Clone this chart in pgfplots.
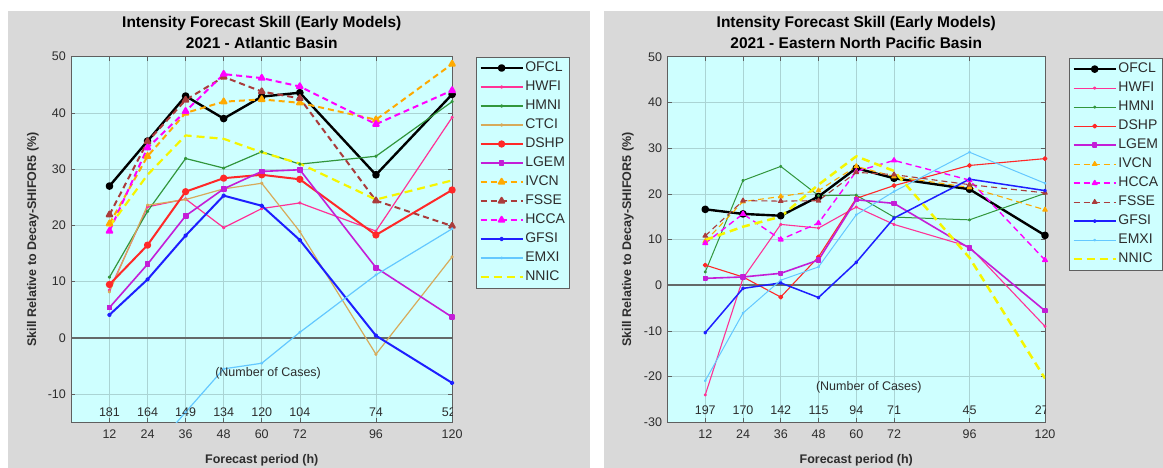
\documentclass[border=0pt]{standalone}
\usepackage{fontspec}
\setmainfont{Liberation Sans}
\usepackage{pgfplots}
\usepackage{pgfplotstable}
\pgfplotsset{compat=1.18}

% colours
\definecolor{panelgray}{RGB}{217,217,217}
\definecolor{cyanbg}{RGB}{206,255,255}
\definecolor{gridc}{RGB}{170,212,212}
\definecolor{txtgray}{RGB}{45,45,45}
\definecolor{axgray}{RGB}{95,95,95}
\definecolor{zerogray}{RGB}{100,105,105}
\definecolor{cOFCL}{RGB}{0,0,0}
\definecolor{cHWFI}{RGB}{255,50,150}
\definecolor{cHMNI}{RGB}{50,150,60}
\definecolor{cCTCI}{RGB}{215,170,90}
\definecolor{cDSHP}{RGB}{255,40,40}
\definecolor{cLGEM}{RGB}{195,30,215}
\definecolor{cIVCN}{RGB}{255,170,0}
\definecolor{cFSSE}{RGB}{170,60,60}
\definecolor{cHCCA}{RGB}{255,0,255}
\definecolor{cGFSI}{RGB}{30,30,255}
\definecolor{cEMXI}{RGB}{100,200,255}
\definecolor{cNNIC}{RGB}{245,245,0}

% Atlantic basin skill (%)
\pgfplotstableread{
h   OFCL HWFI HMNI CTCI DSHP LGEM IVCN FSSE HCCA GFSI EMXI  NNIC
12  27.0 8.5  10.8 8.2  9.5  5.4  20.3 21.9 19.0 4.1  -30.0 19.8
24  35.0 23.3 22.5 23.6 16.5 13.1 32.3 34.9 33.8 10.4 -21.0 29.0
36  43.0 24.7 31.9 24.6 26.0 21.7 40.0 42.3 40.3 18.2 -13.2 36.0
48  39.0 19.6 30.2 26.5 28.4 26.5 42.0 46.4 46.9 25.3 -5.5  35.4
60  42.9 23.0 33.1 27.5 29.0 29.6 42.4 43.8 46.2 23.5 -4.5  33.0
72  43.6 24.0 30.9 18.9 28.2 29.9 41.8 42.6 44.7 17.4 1.0   31.0
96  29.0 19.0 32.3 -2.9 18.3 12.5 38.8 24.4 38.0 0.4  11.2  24.6
120 43.3 39.2 42.0 14.4 26.3 3.7  48.7 19.9 44.0 -8.0 19.4  28.0
}\atl

% Eastern North Pacific basin skill (%)
\pgfplotstableread{
h   OFCL HWFI  HMNI DSHP LGEM IVCN HCCA FSSE GFSI  EMXI  NNIC
12  16.6 -24.0 2.9  4.4  1.5  9.6  9.2  10.8 -10.4 -20.9 9.9
24  15.6 1.5   22.9 1.8  1.8  18.3 15.6 18.5 -0.7  -6.1  12.8
36  15.2 13.3  26.0 -2.6 2.6  19.4 10.0 18.4 0.5   1.1   15.0
48  19.4 12.5  19.6 6.2  5.5  20.7 13.6 18.5 -2.7  4.0   22.0
60  25.6 17.1  19.7 19.0 18.7 26.0 24.9 24.7 5.0   15.4  28.2
72  23.4 13.3  14.9 21.8 17.9 23.8 27.3 24.2 14.7  20.5  25.0
96  21.0 8.4   14.3 26.2 8.1  21.4 23.0 22.0 23.2  29.1  6.0
120 10.9 -9.0  20.1 27.7 -5.6 16.5 5.5  20.2 20.7  22.3  -20.4
}\epac

\pgfplotsset{
  skillaxis/.style={
    scale only axis, anchor=south west,
    height=365.6pt,
    xmin=0, xmax=120, ymax=50,
    xtick={12,24,36,48,60,72,96,120},
    ytick distance=10,
    grid=major,
    major grid style={color=gridc, line width=0.6pt},
    axis background/.style={fill=cyanbg},
    axis line style={axgray, line width=0.8pt},
    tick style={axgray, line width=0.6pt},
    major tick length=4pt,
    tick align=inside, tick pos=both,
    ticklabel style={font=\fontsize{12.5}{14}\selectfont, color=txtgray},
    /pgf/number format/assume math mode=true,
    xticklabel style={yshift=-4pt},
    yticklabel style={xshift=-2pt},
    title style={font=\bfseries\fontsize{15.5}{20.5}\selectfont, align=center, color=black, yshift=-1pt},
    xlabel={Forecast period (h)},
    ylabel={Skill Relative to Decay-SHIFOR5 (\%)},
    xlabel style={font=\bfseries\fontsize{12.5}{14}\selectfont, color=txtgray, at={(axis description cs:0.5,-0.103)}, anchor=center},
    ylabel style={font=\bfseries\fontsize{12.5}{14}\selectfont, color=txtgray, anchor=center},
    legend cell align=left,
    legend style={fill=cyanbg, draw=axgray, line width=0.6pt,
      font=\fontsize{14}{16}\selectfont, text=txtgray,
      anchor=north west, inner xsep=3pt, inner ysep=3pt,
      row sep=3pt,
      nodes={inner sep=1.5pt, text height=10pt, text depth=3pt}},
    legend image code/.code={\draw[mark repeat=2,mark phase=2,#1] plot coordinates {(0pt,0pt) (21pt,0pt) (42pt,0pt)};},
    table/x=h,
  },
  solidline/.style={solid, line join=round},
  dashline/.style={dash pattern=on 6pt off 4pt, line join=round},
  longdash/.style={dash pattern=on 8pt off 5pt, line join=round},
}

\begin{document}
\begin{tikzpicture}
\useasboundingbox (0,0) rectangle (1163pt,468pt);
\fill[white] (0,0) rectangle (1163pt,468pt);
\fill[panelgray] (8pt,0pt) rectangle (590pt,457.3pt);
\fill[panelgray] (603.6pt,0pt) rectangle (1163pt,457.3pt);

% ---------------- Atlantic ----------------
\begin{axis}[skillaxis,
  at={(71.4pt,45.7pt)}, width=380.7pt, ymin=-15,
  title={Intensity Forecast Skill (Early Models)\\2021 - Atlantic Basin},
  ylabel style={at={(axis description cs:-0.101,0.5)}},
  legend style={at={(axis description cs:1.063,1.0)}},
]
\draw[zerogray, line width=1.5pt] (axis cs:0,0) -- (axis cs:120,0);
\addplot[solidline, cOFCL, line width=2.4pt, mark=*, mark size=2.6pt] table[y=OFCL]{\atl};
\addlegendentry{OFCL}
\addplot[solidline, cHWFI, line width=1.2pt, mark=*, mark size=1.1pt] table[y=HWFI]{\atl};
\addlegendentry{HWFI}
\addplot[solidline, cHMNI, line width=1.2pt, mark=*, mark size=1.1pt] table[y=HMNI]{\atl};
\addlegendentry{HMNI}
\addplot[solidline, cCTCI, line width=1.2pt, mark=*, mark size=1.1pt] table[y=CTCI]{\atl};
\addlegendentry{CTCI}
\addplot[solidline, cDSHP, line width=2.0pt, mark=*, mark size=2.6pt] table[y=DSHP]{\atl};
\addlegendentry{DSHP}
\addplot[solidline, cLGEM, line width=1.6pt, mark=square*, mark size=2.1pt] table[y=LGEM]{\atl};
\addlegendentry{LGEM}
\addplot[dashline, cIVCN, line width=2.0pt, mark=triangle*, mark size=3.2pt, mark options={solid}] table[y=IVCN]{\atl};
\addlegendentry{IVCN}
\addplot[dashline, cFSSE, line width=2.0pt, mark=triangle*, mark size=3.2pt, mark options={solid}] table[y=FSSE]{\atl};
\addlegendentry{FSSE}
\addplot[dashline, cHCCA, line width=2.0pt, mark=triangle*, mark size=3.2pt, mark options={solid}] table[y=HCCA]{\atl};
\addlegendentry{HCCA}
\addplot[solidline, cGFSI, line width=2.0pt, mark=*, mark size=1.3pt] table[y=GFSI]{\atl};
\addlegendentry{GFSI}
\addplot[solidline, cEMXI, line width=1.2pt, mark=*, mark size=0.9pt] table[y=EMXI]{\atl};
\addlegendentry{EMXI}
\addplot[longdash, cNNIC, line width=2.2pt] table[y=NNIC]{\atl};
\addlegendentry{NNIC}
% case counts
\begin{scope}[every node/.style={font=\fontsize{12.5}{14}\selectfont, text=txtgray}]
\node at (axis cs:62,-6.3) {(Number of Cases)};
\node at (axis cs:12,-13.2) {181};
\node at (axis cs:24,-13.2) {164};
\node at (axis cs:36,-13.2) {149};
\node at (axis cs:48,-13.2) {134};
\node at (axis cs:60,-13.2) {120};
\node at (axis cs:72,-13.2) {104};
\node at (axis cs:96,-13.2) {74};
\node at (axis cs:119,-13.2) {52};
\end{scope}
\end{axis}

% ---------------- Eastern North Pacific ----------------
\begin{axis}[skillaxis,
  at={(667.5pt,45.7pt)}, width=377.5pt, ymin=-30,
  title={Intensity Forecast Skill (Early Models)\\2021 - Eastern North Pacific Basin},
  ylabel style={at={(axis description cs:-0.105,0.5)}},
  legend style={at={(axis description cs:1.064,0.997)}},
]
\draw[zerogray, line width=1.5pt] (axis cs:0,0) -- (axis cs:120,0);
\addplot[solidline, cOFCL, line width=2.4pt, mark=*, mark size=2.6pt] table[y=OFCL]{\epac};
\addlegendentry{OFCL}
\addplot[solidline, cHWFI, line width=1.1pt, mark=*, mark size=1.1pt] table[y=HWFI]{\epac};
\addlegendentry{HWFI}
\addplot[solidline, cHMNI, line width=1.0pt, mark=*, mark size=1.1pt] table[y=HMNI]{\epac};
\addlegendentry{HMNI}
\addplot[solidline, cDSHP, line width=1.1pt, mark=*, mark size=1.9pt] table[y=DSHP]{\epac};
\addlegendentry{DSHP}
\addplot[solidline, cLGEM, line width=1.6pt, mark=square*, mark size=1.9pt] table[y=LGEM]{\epac};
\addlegendentry{LGEM}
\addplot[dashline, cIVCN, line width=1.1pt, mark=triangle*, mark size=2.6pt, mark options={solid}] table[y=IVCN]{\epac};
\addlegendentry{IVCN}
\addplot[dashline, cHCCA, line width=1.4pt, mark=triangle*, mark size=2.6pt, mark options={solid}] table[y=HCCA]{\epac};
\addlegendentry{HCCA}
\addplot[dashline, cFSSE, line width=1.1pt, mark=triangle*, mark size=2.6pt, mark options={solid}] table[y=FSSE]{\epac};
\addlegendentry{FSSE}
\addplot[solidline, cGFSI, line width=1.5pt, mark=*, mark size=1.2pt] table[y=GFSI]{\epac};
\addlegendentry{GFSI}
\addplot[solidline, cEMXI, line width=1.0pt, mark=*, mark size=0.9pt] table[y=EMXI]{\epac};
\addlegendentry{EMXI}
\addplot[longdash, cNNIC, line width=2.5pt] table[y=NNIC]{\epac};
\addlegendentry{NNIC}
\begin{scope}[every node/.style={font=\fontsize{12.5}{14}\selectfont, text=txtgray}]
\node at (axis cs:64,-22.3) {(Number of Cases)};
\node at (axis cs:12,-27.3) {197};
\node at (axis cs:24,-27.3) {170};
\node at (axis cs:36,-27.3) {142};
\node at (axis cs:48,-27.3) {115};
\node at (axis cs:60,-27.3) {94};
\node at (axis cs:72,-27.3) {71};
\node at (axis cs:96,-27.3) {45};
\node at (axis cs:119,-27.3) {27};
\end{scope}
\end{axis}
\end{tikzpicture}
\end{document}
